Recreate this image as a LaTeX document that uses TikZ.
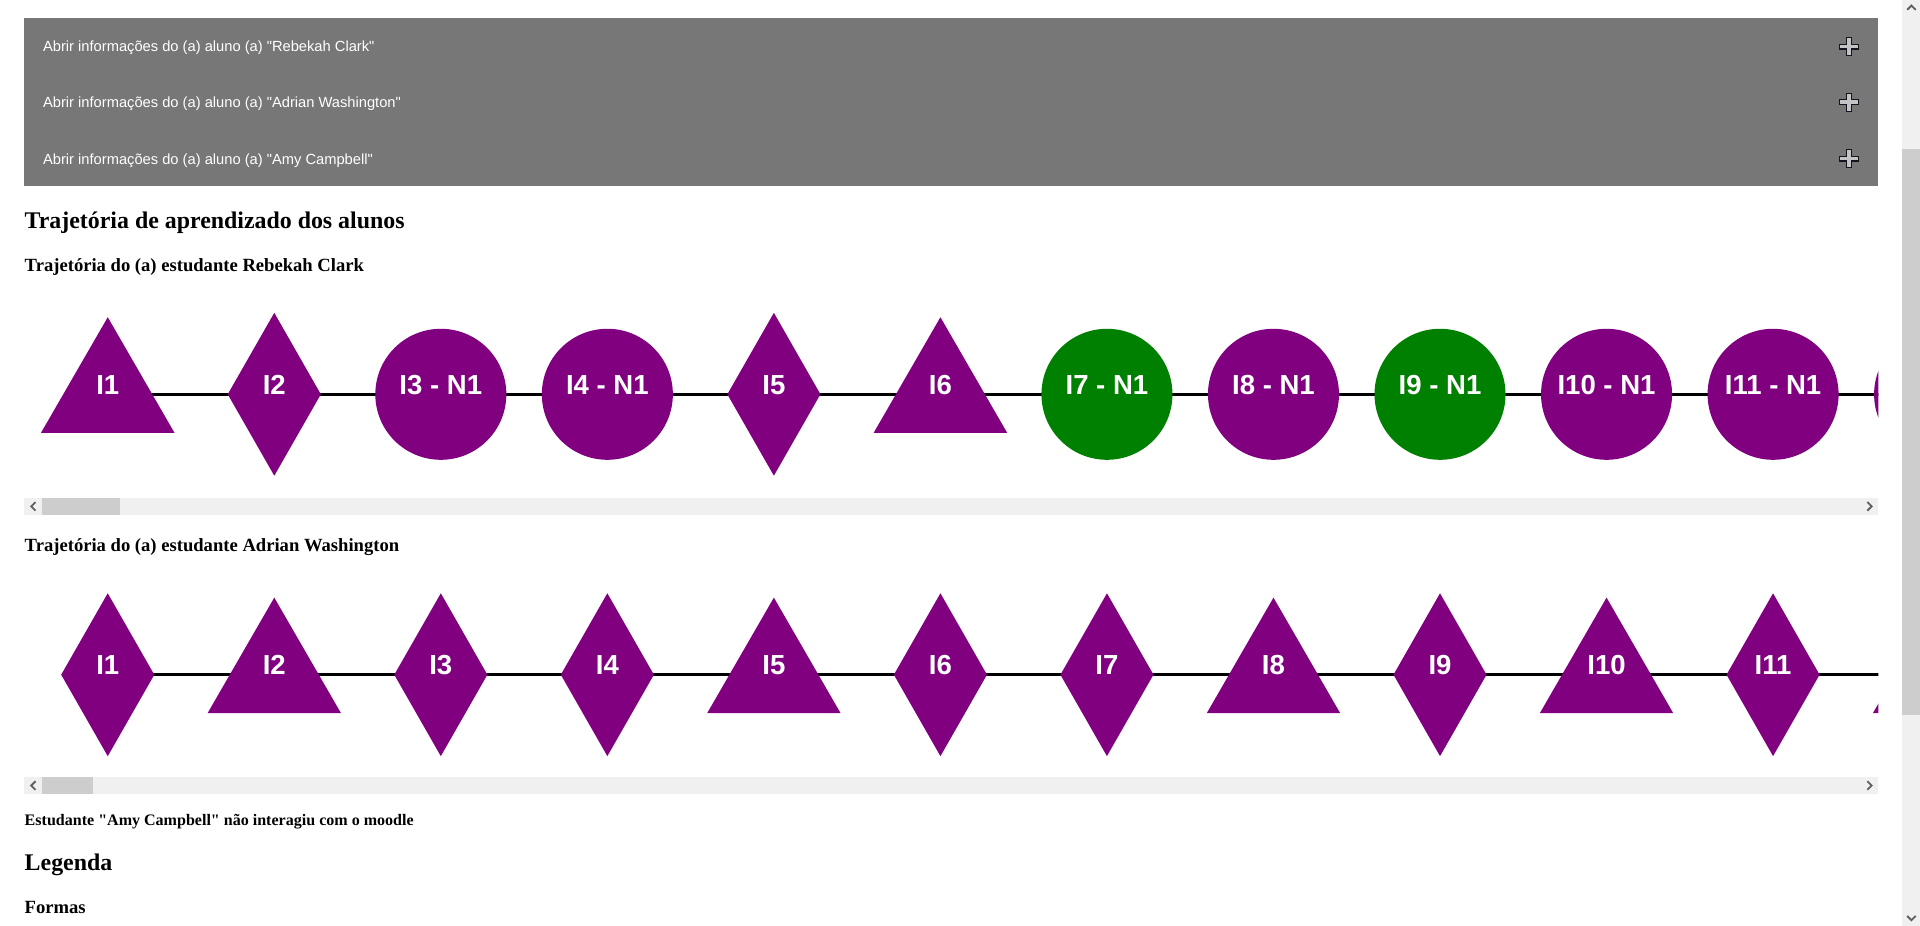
\documentclass[tikz,border=0pt]{standalone}
\usepackage{fontspec}
\setmainfont{Liberation Serif}[Ligatures=TeXOff]
\newfontfamily\arialf{Liberation Sans}[Ligatures=TeXOff]
\usetikzlibrary{shapes.geometric}
\definecolor{boxgray}{HTML}{777777}
\definecolor{purp}{HTML}{800080}
\definecolor{grn}{HTML}{008000}
\definecolor{trackc}{HTML}{F0F0F0}
\definecolor{thumbc}{HTML}{CDCDCD}
\definecolor{arrowc}{HTML}{606060}
\definecolor{plusfill}{HTML}{C4C4C4}
\definecolor{plusline}{HTML}{14141E}
\tikzset{
  shp/.style={draw=none, inner sep=0pt, outer sep=0pt},
  circ/.style={shp, circle, fill=purp, minimum size=107pt},
  gcirc/.style={circ, fill=grn},
  dia/.style={shp, diamond, fill=purp, minimum width=76pt, minimum height=133pt},
  tri/.style={shp, regular polygon, regular polygon sides=3, fill=purp, minimum size=125.9pt},
  lbl/.style={text=white, font=\arialf\bfseries\fontsize{22.5}{24}\selectfont, anchor=base, inner sep=0pt},
  trail/.style={line width=2.3pt, black},
  rowtxt/.style={text=white, font=\arialf\fontsize{12}{14}\selectfont, anchor=base west, inner sep=0pt},
  htwo/.style={font=\bfseries\fontsize{19.5}{22}\selectfont, anchor=base west, inner sep=0pt},
  hthree/.style={font=\bfseries\fontsize{15.2}{18}\selectfont, anchor=base west, inner sep=0pt},
  hsmall/.style={font=\bfseries\fontsize{13.1}{16}\selectfont, anchor=base west, inner sep=0pt},
  chev/.style={draw=arrowc, line width=1.5pt},
  plusicon/.style={fill=plusfill, draw=plusline, line width=0.9pt},
}
\newcommand{\plusat}[2]{%
  \path[plusicon, shift={(#1,#2)}] (-2,-7.5) -- (2,-7.5) -- (2,-2) -- (7.5,-2) -- (7.5,2) -- (2,2) -- (2,7.5) -- (-2,7.5) -- (-2,2) -- (-7.5,2) -- (-7.5,-2) -- (-2,-2) -- cycle;}
\begin{document}
\begin{tikzpicture}[x=1pt, y=-1pt]
\useasboundingbox (0,0) rectangle (1568,756);
\fill[white] (0,0) rectangle (1568,756);

% accordion box
\fill[boxgray] (20,15) rectangle (1534,152);
\node[rowtxt] (r1) at (35,42) {Abrir informações do (a) aluno (a) "Rebekah Clark"};
\node[rowtxt] (r2) at (35,88) {Abrir informações do (a) aluno (a) "Adrian Washington"};
\node[rowtxt] (r3) at (35,134) {Abrir informações do (a) aluno (a) "Amy Campbell"};
\plusat{1510}{38}
\plusat{1510}{83.5}
\plusat{1510}{129.5}

% headings
\node[htwo] (title) at (20,187) {Trajetória de aprendizado dos alunos};
\node[hthree] (sub1) at (20,222) {Trajetória do (a) estudante Rebekah Clark};

% chart 1
\begin{scope}
\clip (20,230) rectangle (1534,405);
\foreach \i in {1,...,12} { \coordinate (p\i) at ({88+136*(\i-1)},322); }
\draw[trail] (p1) -- (p12);
\node[tri]   (a1)  at (p1)  {};
\node[dia]   (a2)  at (p2)  {};
\node[circ]  (a3)  at (p3)  {};
\node[circ]  (a4)  at (p4)  {};
\node[dia]   (a5)  at (p5)  {};
\node[tri]   (a6)  at (p6)  {};
\node[gcirc] (a7)  at (p7)  {};
\node[circ]  (a8)  at (p8)  {};
\node[gcirc] (a9)  at (p9)  {};
\node[circ]  (a10) at (p10) {};
\node[circ]  (a11) at (p11) {};
\node[circ]  (a12) at (p12) {};
\node[lbl] (la1)  at (a1.center)  {I1};
\node[lbl] (la2)  at (a2.center)  {I2};
\node[lbl] (la3)  at (a3.center)  {I3 - N1};
\node[lbl] (la4)  at (a4.center)  {I4 - N1};
\node[lbl] (la5)  at (a5.center)  {I5};
\node[lbl] (la6)  at (a6.center)  {I6};
\node[lbl] (la7)  at (a7.center)  {I7 - N1};
\node[lbl] (la8)  at (a8.center)  {I8 - N1};
\node[lbl] (la9)  at (a9.center)  {I9 - N1};
\node[lbl] (la10) at (a10.center) {I10 - N1};
\node[lbl] (la11) at (a11.center) {I11 - N1};
\end{scope}
% scrollbar 1
\fill[trackc] (20,406.5) rectangle (1534,420.5);
\fill[thumbc] (34,406.5) rectangle (98,420.5);
\draw[chev] (29,410) -- (25.5,413.5) -- (29,417);
\draw[chev] (1525,410) -- (1528.5,413.5) -- (1525,417);

\node[hthree] (sub2) at (20,450) {Trajetória do (a) estudante Adrian Washington};

% chart 2
\begin{scope}
\clip (20,460) rectangle (1534,633);
\foreach \i in {1,...,12} { \coordinate (q\i) at ({88+136*(\i-1)},551); }
\draw[trail] (q1) -- (q12);
\node[dia] (b1)  at (q1)  {};
\node[tri] (b2)  at (q2)  {};
\node[dia] (b3)  at (q3)  {};
\node[dia] (b4)  at (q4)  {};
\node[tri] (b5)  at (q5)  {};
\node[dia] (b6)  at (q6)  {};
\node[dia] (b7)  at (q7)  {};
\node[tri] (b8)  at (q8)  {};
\node[dia] (b9)  at (q9)  {};
\node[tri] (b10) at (q10) {};
\node[dia] (b11) at (q11) {};
\node[tri] (b12) at (q12) {};
\node[lbl] (lb1)  at (b1.center)  {I1};
\node[lbl] (lb2)  at (b2.center)  {I2};
\node[lbl] (lb3)  at (b3.center)  {I3};
\node[lbl] (lb4)  at (b4.center)  {I4};
\node[lbl] (lb5)  at (b5.center)  {I5};
\node[lbl] (lb6)  at (b6.center)  {I6};
\node[lbl] (lb7)  at (b7.center)  {I7};
\node[lbl] (lb8)  at (b8.center)  {I8};
\node[lbl] (lb9)  at (b9.center)  {I9};
\node[lbl] (lb10) at (b10.center) {I10};
\node[lbl] (lb11) at (b11.center) {I11};
\end{scope}
% scrollbar 2
\fill[trackc] (20,634.5) rectangle (1534,648.5);
\fill[thumbc] (34,634.5) rectangle (76,648.5);
\draw[chev] (29,638) -- (25.5,641.5) -- (29,645);
\draw[chev] (1525,638) -- (1528.5,641.5) -- (1525,645);

\node[hsmall] (amy) at (20,674) {Estudante "Amy Campbell" não interagiu com o moodle};
\node[htwo] (leg) at (20,711) {Legenda};
\node[hthree] (formas) at (20,746) {Formas};

% page scrollbar
\fill[trackc] (1553.5,0) rectangle (1568,756);
\fill[thumbc] (1553.5,122) rectangle (1568,584);
\draw[chev] (1557.5,8) -- (1561,4.5) -- (1564.5,8);
\draw[chev] (1557.5,748) -- (1561,751.5) -- (1564.5,748);
\end{tikzpicture}
\end{document}
